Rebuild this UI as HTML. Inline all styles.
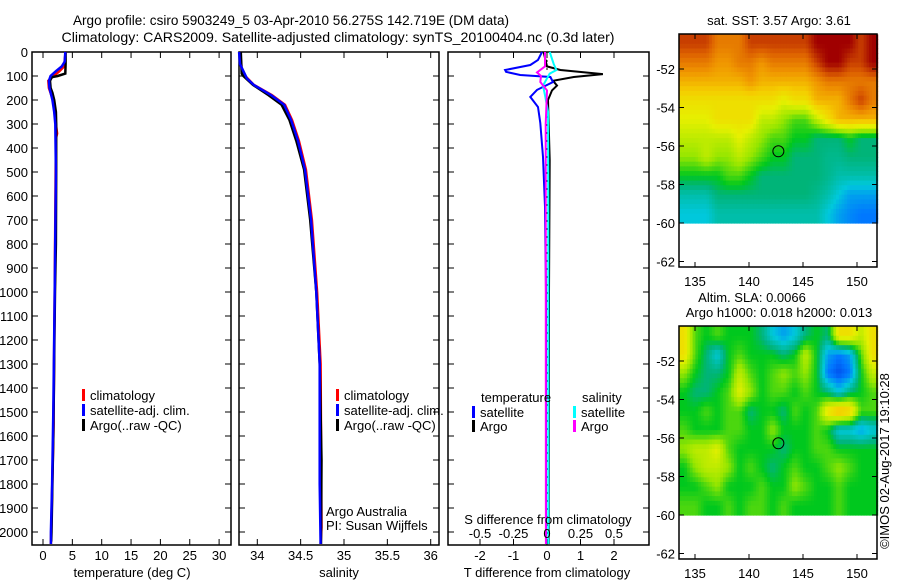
<!DOCTYPE html>
<html><head><meta charset="utf-8"><style>
html,body{margin:0;padding:0;background:#fff}
svg{display:block;font-family:"Liberation Sans",Arial,sans-serif}
</style></head><body>
<svg id="fig" width="900" height="580" viewBox="0 0 900 580"></svg>
<script>
// ---------- data ----------
const depthTicks=[0,100,200,300,400,500,600,700,800,900,1000,1100,1200,1300,1400,1500,1600,1700,1800,1900,2000];
const tempTicks=[0,5,10,15,20,25,30];
const salTicks=[34,34.5,35,35.5,36];
const salTickLabels=["34","34.5","35","35.5","36"];
const tdiffTicks=[-2,-1,0,1,2];
const sdiffTicks=[-0.5,-0.25,0,0.25,0.5];
const sdiffLabels=["-0.5","-0.25","0","0.25","0.5"];
const argoT=[[0,3.85],[50,3.85],[90,3.8],[100,2.5],[105,1.5],[120,1.2],[150,1.3],[170,1.6],[200,1.9],[250,2.2],[300,2.25],[500,2.25],[800,2.2],[1000,2.05],[1200,1.95],[1400,1.85],[1600,1.75],[1800,1.6],[2000,1.45],[2040,1.4]];
const satT=[[0,3.8],[40,3.7],[60,3.2],[80,2.2],[100,1.3],[120,1.0],[150,1.1],[200,1.6],[250,1.9],[300,2.1],[500,2.2],[1000,2.0],[1500,1.75],[1800,1.55],[2000,1.35],[2050,1.35]];
const climT=[[0,3.85],[60,3.6],[80,2.8],[100,1.8],[120,0.9],[150,1.0],[200,1.7],[300,2.2],[340,2.4],[360,2.2],[1000,2.0],[1500,1.8],[1550,1.8],[2000,1.4],[2050,1.35]];
const argoS=[[0,33.81],[90,33.82],[100,33.84],[120,33.9],[137,33.95],[180,34.13],[220,34.28],[283,34.37],[370,34.45],[490,34.54],[700,34.61],[1000,34.68],[1300,34.72],[1700,34.74],[2050,34.735]];
const satS=[[0,33.79],[50,33.8],[80,33.84],[110,33.88],[137,33.96],[180,34.16],[220,34.31],[283,34.39],[370,34.47],[490,34.55],[700,34.62],[1000,34.68],[1300,34.72],[1800,34.72],[2050,34.73]];
const climS=[[0,33.8],[70,33.82],[100,33.86],[137,33.96],[180,34.17],[220,34.32],[283,34.4],[370,34.48],[490,34.56],[700,34.63],[1000,34.69],[1300,34.73],[1980,34.74],[2050,34.73]];
const dTsat=[[0,-0.15],[33,-0.27],[54,-0.5],[75,-1.25],[83,-1.22],[96,-0.8],[104,0.1],[125,0.18],[158,-0.3],[187,-0.5],[229,-0.27],[296,-0.2],[437,-0.12],[645,-0.06],[1000,-0.03],[2050,-0.03]];
const dTargo=[[0,-0.1],[60,0],[75,0.4],[92,1.67],[104,0.8],[120,0.18],[140,0.3],[160,0.15],[200,0.03],[450,0.08],[1000,0.06],[2050,0.05]];
const dSsat=[[0,0.02],[50,0.05],[75,0.07],[90,0.02],[110,0],[140,-0.03],[180,-0.015],[250,0.008],[600,0.01],[2050,0.01]];
const dSargo=[[0,-0.015],[60,-0.015],[85,-0.075],[100,-0.045],[125,-0.05],[160,0],[300,-0.01],[2050,-0.008]];
const latTicks=[-52,-54,-56,-58,-60,-62];
const lonTicks=[135,140,145,150];
const argoPos=[142.719,-56.275];
const sstGrid=[
[9,9,9,8,8,8,9,9,9,9,9,9,10,10,10,10,9,10],
[8,8,8,7.5,7.5,8,8,7.5,8,8,8,8,9,10,10,9,9,10],
[7,7,7,7,7,7,7.5,7,7,7,7,7,7.5,8,8,8,8,8],
[6,6,6,6,6,6,6,6,6,5.5,6,6,7,7,7,8,9,8],
[5.5,5.5,5.5,6,6,6,6,5,5,4.5,4,4,5,6,7,7,7,7],
[5,5,5,5,5,5.5,5,4.5,4,4,3.5,3.5,3,3,3,3.5,3,3],
[4.5,4.5,5,4.5,4.5,5,4.5,4,3.5,3.5,3,3,3,2.8,2.8,3,3,3],
[3.5,3.5,3.5,3.5,4,4,3.5,3,3,3,3,3,3,2.8,2.5,2.5,2.5,2.5],
[2.5,2.5,2.5,3,3,3,3,3,3,3,3,3,2.8,2.5,2,1.5,1.5,1.5],
[2,2,2,2.5,2.5,2.5,2.5,2.5,2.5,2.5,2.5,2.5,2.5,2,1.5,1.2,1,1]];
const slaGrid=[
[6,4,3.5,4,3.5,3.5,3.5,3,2,1.5,2,3,3.5,3,6,6,5,6],
[6,4,3,2,3.5,4,3.5,3.5,3.5,3,3.5,5,3.5,1.5,1,1.5,4,6],
[4.5,3.5,3,3,3.5,5,4,3.5,4,4.5,4,4.5,3.5,1,0.5,1,3.5,5],
[3.5,3,3,3.5,4,5.5,4.5,3.5,4,4,3.5,4,3.5,3,2,3,3.5,4],
[3.5,3.5,4,3.5,4,4,3,3.5,3.5,3,4,3.5,4,6,7,6.5,4,4],
[4,3.5,3.5,3.5,4,4,3.5,3.5,4.5,3.5,3.5,3.5,4,3.5,2,2,1.5,2],
[4.5,5,5,5.5,4,3.5,3.5,3.5,3.5,3,3.5,3.5,4,4,3.5,3.5,3.5,3.5],
[3.5,4.5,5,5,4.5,3.5,4,3.5,3,3.5,4,3.5,3.5,4,4.5,4,3.5,3.5],
[3.5,3.5,4,4.5,3.5,3.5,3.5,4,3.5,3.5,4.5,4,3.5,3.5,4,3.5,3.5,3.5],
[4,4,3.5,3.5,4,3.5,4,4,3.5,4,3.5,3.5,3.5,3.5,4,3.5,3.5,3.5]];

// ---------- helpers ----------
const svg=document.getElementById('fig');
const NS='http://www.w3.org/2000/svg';
function mk(tag,attrs,parent){const e=document.createElementNS(NS,tag);for(const k in attrs)e.setAttribute(k,attrs[k]);(parent||svg).appendChild(e);return e;}
function txt(s,x,y,anchor,size,name,extra){const t=mk('text',Object.assign({x:x,y:y,'text-anchor':anchor||'start','font-size':size||13,fill:'#000'},extra||{}));t.textContent=s;


return t;}
const yD=d=>52+d*0.24;
const P1={x0:32,x1:231},P2={x0:239,x1:439},P3={x0:448,x1:649},TOP=52,BOT=545;
const xT=v=>43+v*5.87, xS=v=>257.3+(v-34)*86.7, xDT=v=>547+v*33.5, xDS=v=>547+v*134;

function frame(P,name){const r=mk('rect',{x:P.x0,y:TOP,width:P.x1-P.x0,height:BOT-TOP,fill:'none',stroke:'#000','stroke-width':1.5});


depthTicks.forEach(d=>{mk('line',{x1:P.x0,x2:P.x0+6,y1:yD(d),y2:yD(d),stroke:'#000'});mk('line',{x1:P.x1-6,x2:P.x1,y1:yD(d),y2:yD(d),stroke:'#000'});});}
function xticks(P,ticks,f,len){ticks.forEach(v=>{const x=f(v);mk('line',{x1:x,x2:x,y1:TOP,y2:TOP+len,stroke:'#000'});mk('line',{x1:x,x2:x,y1:BOT-len,y2:BOT,stroke:'#000'});});}
function profile(data,fx,color,name,w){const pts=data.map(p=>fx(p[1]).toFixed(1)+','+yD(p[0]).toFixed(1)).join(' ');
const l=mk('polyline',{points:pts,fill:'none',stroke:color,'stroke-width':w||2.5,'stroke-linejoin':'miter'});

}
function legend(x,y,color,label,name){mk('rect',{x:x,y:y-9,width:3,height:12,fill:color});txt(label,x+8,y+2,'start',13,name);}

// titles
txt('Argo profile: csiro 5903249_5 03-Apr-2010 56.275S 142.719E (DM data)',291,25,'middle',14,'title-line-1',{textLength:436,lengthAdjust:'spacingAndGlyphs'});
txt('Climatology: CARS2009. Satellite-adjusted climatology: synTS_20100404.nc (0.3d later)',338,42,'middle',14,'title-line-2',{textLength:553,lengthAdjust:'spacingAndGlyphs'});

// panel 1
frame(P1,'temperature-panel');xticks(P1,tempTicks,xT,6);
depthTicks.forEach(d=>txt(String(d),28,yD(d)+5,'end',13,'depth-tick-label'));
tempTicks.forEach(v=>txt(String(v),xT(v),560,'middle',13,'temperature-tick-label'));
txt('temperature (deg C)',132,577,'middle',13,'temperature-axis-title');
profile(climT,xT,'#f00','temperature-climatology-line');
profile(argoT,xT,'#000','temperature-argo-line');
profile(satT,xT,'#00f','temperature-satellite-line');
legend(82,398,'#f00','climatology','legend-climatology');
legend(82,413,'#00f','satellite-adj. clim.','legend-satellite-adj');
legend(82,428,'#000','Argo(..raw -QC)','legend-argo');

// panel 2
frame(P2,'salinity-panel');xticks(P2,salTicks,xS,6);
salTicks.forEach((v,i)=>txt(salTickLabels[i],xS(v),560,'middle',13,'salinity-tick-label'));
txt('salinity',339,577,'middle',13,'salinity-axis-title');
profile(climS,xS,'#f00','salinity-climatology-line');
profile(argoS,xS,'#000','salinity-argo-line');
profile(satS,xS,'#00f','salinity-satellite-line');
legend(336,398,'#f00','climatology','legend-climatology-s');
legend(336,413,'#00f','satellite-adj. clim.','legend-satellite-adj-s');
legend(336,428,'#000','Argo(..raw -QC)','legend-argo-s');
txt('Argo Australia',326,516,'start',13,'credit-argo-australia');
txt('PI: Susan Wijffels',326,530,'start',13,'credit-pi');

// panel 3
frame(P3,'difference-panel');xticks(P3,tdiffTicks,xDT,6);
mk('line',{x1:547,x2:547,y1:TOP,y2:BOT,stroke:'#000','stroke-dasharray':'2,6'});
profile(dTargo,xDT,'#000','tdiff-argo-line',2);
profile(dTsat,xDT,'#00f','tdiff-satellite-line',2);
profile(dSsat,xDS,'#0ff','sdiff-satellite-line',2);
profile(dSargo,xDS,'#f0f','sdiff-argo-line',2);
tdiffTicks.forEach(v=>txt(String(v),xDT(v),560,'middle',13,'tdiff-tick-label'));
sdiffTicks.forEach((v,i)=>txt(sdiffLabels[i],xDS(v),538,'middle',13,'sdiff-tick-label'));
txt('S difference from climatology',548,524,'middle',13,'sdiff-axis-title');
txt('T difference from climatology',547,577,'middle',13,'tdiff-axis-title');
txt('temperature',481,402,'start',13,'legend-temperature-header');
txt('salinity',582,402,'start',13,'legend-salinity-header');
legend(472,415,'#00f','satellite','legend-t-satellite');
legend(472,429,'#000','Argo','legend-t-argo');
legend(573,415,'#0ff','satellite','legend-s-satellite');
legend(573,429,'#f0f','Argo','legend-s-argo');

// maps
const stops=[[0,[0,40,220]],[1,[0,120,255]],[2,[0,200,220]],[3,[0,180,120]],[3.5,[0,200,30]],[4.5,[150,230,0]],[5.5,[230,240,0]],[6.5,[245,205,0]],[7.5,[240,150,0]],[8.5,[220,95,0]],[10,[160,0,0]]];
function cmap(v){for(let i=0;i<stops.length-1;i++){const a=stops[i],b=stops[i+1];if(v<=b[0]){const t=(v-a[0])/(b[0]-a[0]);return 'rgb('+a[1].map((c,j)=>Math.round(c+t*(b[1][j]-c))).join(',')+')';}}return 'rgb(160,0,0)';}
function sample(grid,fi,fj){const nr=grid.length,nc=grid[0].length;
  fi=Math.max(0,Math.min(nr-1,fi));fj=Math.max(0,Math.min(nc-1,fj));
  const i0=Math.floor(fi),j0=Math.floor(fj),i1=Math.min(nr-1,i0+1),j1=Math.min(nc-1,j0+1),ti=fi-i0,tj=fj-j0;
  return grid[i0][j0]*(1-ti)*(1-tj)+grid[i0][j1]*(1-ti)*tj+grid[i1][j0]*ti*(1-tj)+grid[i1][j1]*ti*tj;}
function map(top,grid,name){
  const L=679,R=877,B=top+233;
  const lon=v=>695+(v-135)*10.8, lat=v=>top+35+(-52-v)*19.25;
  const g=mk('g',{});
  
  
  const lon0=133.5,lat0=-50.2,lat1=-60,lon1=151.9;
  const nr=grid.length,nc=grid[0].length,S=4;
  const dLon=(lon1-lon0)/(nc*S),dLat=(lat0-lat1)/(nr*S);
  for(let i=0;i<nr*S;i++)for(let j=0;j<nc*S;j++){
    const v=sample(grid,(i+0.5)/S-0.5,(j+0.5)/S-0.5);
    const x=lon(lon0+j*dLon),y=lat(lat0-i*dLat);
    mk('rect',{x:x.toFixed(1),y:y.toFixed(1),width:(lon(lon0+(j+1)*dLon)-x+0.6).toFixed(1),height:(lat(lat0-(i+1)*dLat)-y+0.6).toFixed(1),fill:cmap(v)},g);
  }
  mk('rect',{x:L,y:top,width:R-L,height:B-top,fill:'none',stroke:'#000','stroke-width':1.5});
  latTicks.forEach(v=>{const y=lat(v);mk('line',{x1:L,x2:L+5,y1:y,y2:y,stroke:'#000'});mk('line',{x1:R-5,x2:R,y1:y,y2:y,stroke:'#000'});txt(String(v),675,y+5,'end',13,'latitude-tick-label');});
  lonTicks.forEach(v=>{const x=lon(v);mk('line',{x1:x,x2:x,y1:top,y2:top+5,stroke:'#000'});mk('line',{x1:x,x2:x,y1:B-5,y2:B,stroke:'#000'});txt(String(v),x,B+19,'middle',13,'longitude-tick-label');});
  const c=mk('circle',{cx:lon(argoPos[0]),cy:lat(argoPos[1]),r:5.5,fill:'none',stroke:'#000','stroke-width':1});
  
  
}
txt('sat. SST: 3.57 Argo: 3.61',779,25,'middle',13,'sst-map-title');
map(34,sstGrid,'sst-map');
txt('Altim. SLA: 0.0066',752,302,'middle',13,'sla-map-title');
txt('Argo h1000: 0.018 h2000: 0.013',779,317,'middle',13,'sla-map-subtitle');
map(326,slaGrid,'sla-map');
txt('©IMOS 02-Aug-2017 19:10:28',0,0,'middle',13,'imos-credit',{transform:'translate(889,461) rotate(-90)'});
</script>
</body></html>
